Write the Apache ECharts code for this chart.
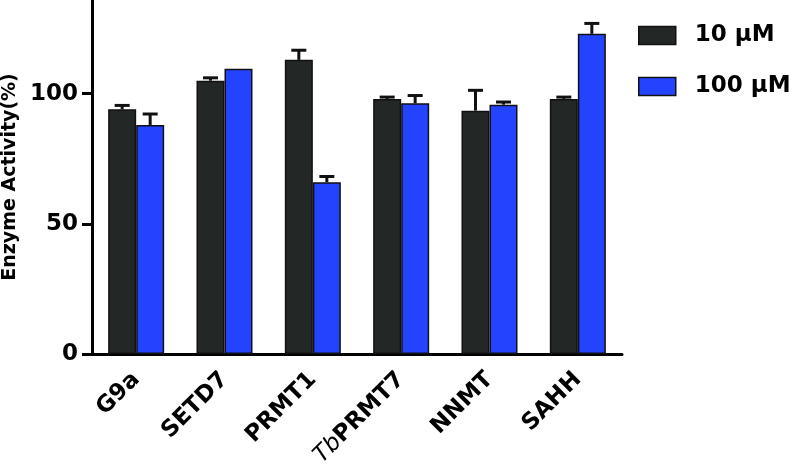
<!DOCTYPE html>
<html>
<head>
<meta charset="utf-8">
<script src="https://cdn.jsdelivr.net/npm/echarts@6/dist/echarts.min.js"></script>
<style>
  html, body { margin: 0; padding: 0; background: #fff; }
</style>
</head>
<body>
<div id="chart" style="width: 794px;height:471px;"></div>
<script>
// data
var categories = ['G9a', 'SETD7', 'PRMT1', 'TbPRMT7', 'NNMT', 'SAHH'];
var act10 = [94, 105, 113, 98, 93.5, 98];
var act100 = [88, 109.6, 66, 96.3, 95.8, 123];
var err10 = [1.5, 1.1, 3.7, 0.7, 7.8, 0.7];
var err100 = [4.2, 0, 2.2, 3, 1, 4];
var yTicks = [0, 50, 100];

var barW = 28;
var font = 'DejaVu Sans';

var myChart = echarts.init(document.getElementById('chart'));

// upper error bar (stem + cap) for one group, shifted by half a bar
function errorSeries(values, errs, shift, z) {
  return {
    type: 'custom',
    z: z,
    silent: true,
    data: values.map(function (v, i) { return [i, v, errs[i]]; }),
    renderItem: function (params, api) {
      var i = api.value(0), v = api.value(1), e = api.value(2);
      if (!e) return null;
      var base = api.coord([i, v]);
      var top = api.coord([i, v + e]);
      var x = base[0] + shift;
      return {
        type: 'group',
        children: [
          { type: 'line', shape: { x1: x, y1: base[1], x2: x, y2: top[1] },
            style: { stroke: '#111', lineWidth: 3 } },
          { type: 'line', shape: { x1: x - 7.5, y1: top[1], x2: x + 7.5, y2: top[1] },
            style: { stroke: '#111', lineWidth: 3 } }
        ]
      };
    }
  };
}

var option = {
  animation: false,
  grid: { left: 92, right: 172, top: 0, bottom: 117, outerBoundsMode: 'none', containLabel: false },
  legend: {
    orient: 'vertical',
    left: 638,
    top: 24,
    padding: 0,
    itemWidth: 37,
    itemHeight: 18,
    itemGap: 28,
    icon: 'rect',
    itemStyle: { borderColor: '#111', borderWidth: 1.5 },
    textStyle: { fontFamily: font, fontWeight: 'bold', fontSize: 23, color: '#000', padding: [0, 0, 0, 14] },
    data: ['10 μM', '100 μM']
  },
  xAxis: {
    type: 'category',
    data: categories,
    axisLine: { lineStyle: { color: '#000', width: 3 } },
    axisTick: { alignWithLabel: true, length: 10, lineStyle: { color: '#000', width: 3 } },
    axisLabel: {
      rotate: 45,
      margin: 22,
      fontFamily: font,
      fontWeight: 'bold',
      fontSize: 23,
      color: '#000',
      formatter: function (v) {
        return v === 'TbPRMT7' ? '{i|Tb}PRMT7' : v;
      },
      rich: {
        i: { fontFamily: font, fontStyle: 'italic', fontWeight: 'normal', fontSize: 23, color: '#000' }
      }
    }
  },
  yAxis: {
    type: 'value',
    min: 0,
    max: 136,
    name: 'Enzyme Activity(%)',
    nameLocation: 'middle',
    nameGap: 72,
    nameTextStyle: { fontFamily: font, fontWeight: 'bold', fontSize: 19, color: '#000' },
    splitLine: { show: false },
    axisLine: { show: true, lineStyle: { color: '#000', width: 3 } },
    axisTick: { show: true, length: 10, customValues: yTicks, lineStyle: { color: '#000', width: 3 } },
    axisLabel: {
      customValues: yTicks,
      margin: 14,
      fontFamily: font,
      fontWeight: 'bold',
      fontSize: 23,
      color: '#000'
    }
  },
  series: [
    {
      name: '10 μM',
      type: 'bar',
      data: act10,
      barWidth: barW,
      barGap: '0%',
      itemStyle: { color: '#232726', borderColor: '#111', borderWidth: 1.5 }
    },
    {
      name: '100 μM',
      type: 'bar',
      data: act100,
      barWidth: barW,
      itemStyle: { color: '#2343ff', borderColor: '#111', borderWidth: 1.5 }
    },
    errorSeries(act10, err10, -barW / 2, 5),
    errorSeries(act100, err100, barW / 2, 5)
  ]
};

myChart.setOption(option);
</script>
</body>
</html>
